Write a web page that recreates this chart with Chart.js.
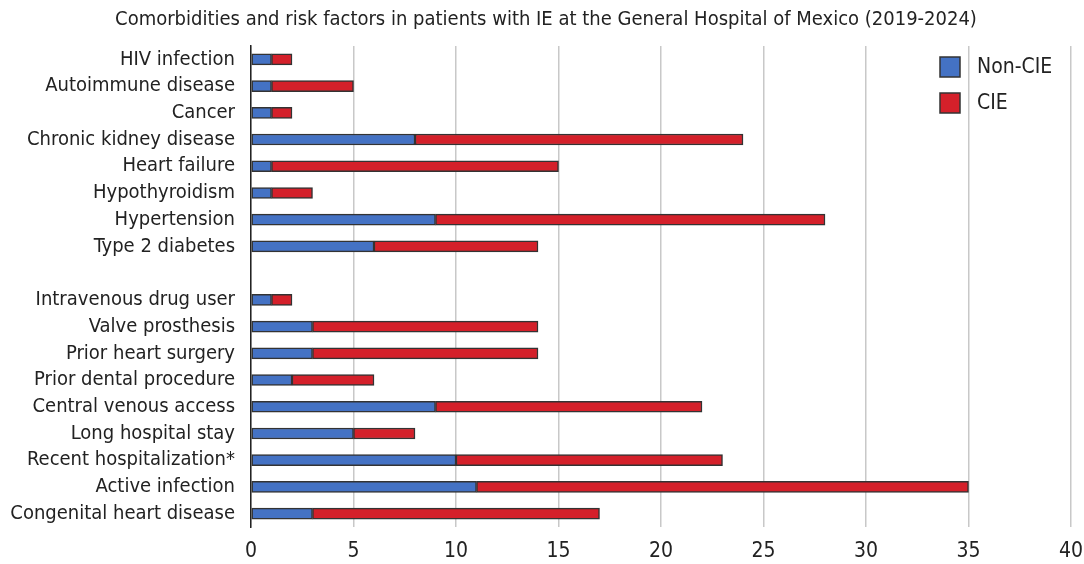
<!DOCTYPE html>
<html><head><meta charset="utf-8">
<script src="https://cdn.jsdelivr.net/npm/chart.js@4.4.1/dist/chart.umd.min.js"></script>
<style>html,body{margin:0;padding:0;background:#fff}#wrap{width:1084px;height:564px}</style>
</head><body><div id="wrap"><canvas id="c" width="1084" height="564"></canvas></div>
<script>
const categories = ["HIV infection","Autoimmune disease","Cancer","Chronic kidney disease","Heart failure","Hypothyroidism","Hypertension","Type 2 diabetes","","Intravenous drug user","Valve prosthesis","Prior heart surgery","Prior dental procedure","Central venous access","Long hospital stay","Recent hospitalization*","Active infection","Congenital heart disease"];
const nonCIE = [1,1,1,8,1,1,9,6,null,1,3,3,2,9,5,10,11,3];
const cie    = [1,4,1,16,14,2,19,8,null,1,11,11,4,13,3,13,24,14];
const xTicks = [0,5,10,15,20,25,30,35,40];
const titleText = "Comorbidities and risk factors in patients with IE at the General Hospital of Mexico (2019-2024)";
const FONT = "'Liberation Sans Narrow','DejaVu Sans Condensed','Liberation Sans',sans-serif";

const legendPlugin = {
  id:'insideLegend',
  afterDraw(chart){
    const ctx = chart.ctx;
    ctx.save();
    chart.data.datasets.forEach((ds,i)=>{
      const x = 940, y = 57 + i*36;
      ctx.fillStyle = ds.backgroundColor;
      ctx.fillRect(x,y,20,20);
      ctx.strokeStyle = '#333'; ctx.lineWidth = 1.5;
      ctx.strokeRect(x,y,20,20);
      ctx.fillStyle = '#222';
      ctx.font = "21px " + FONT;
      ctx.textBaseline = 'middle';
      ctx.fillText(ds.label, x+37, y+11);
    });
    ctx.restore();
  }
};

new Chart(document.getElementById('c'), {
  type:'bar',
  data:{
    labels: categories,
    datasets:[
      {label:'Non-CIE', data:nonCIE, backgroundColor:'#4472C4', borderColor:'#333', borderWidth:1.5, borderSkipped:false, barThickness:11},
      {label:'CIE', data:cie, backgroundColor:'#D4202A', borderColor:'#333', borderWidth:1.5, borderSkipped:false, barThickness:11}
    ]
  },
  options:{
    indexAxis:'y',
    responsive:false,
    animation:false,
    layout:{padding:{left:8,right:0,top:0,bottom:0}},
    plugins:{
      legend:{display:false},
      tooltip:{enabled:false},
      title:{display:true, text:titleText, color:'#222', font:{family:FONT, size:20, weight:'normal'}, padding:{top:8,bottom:14}}
    },
    scales:{
      x:{
        stacked:true, min:0, max:40,
        afterBuildTicks(s){ s.ticks = xTicks.map(v=>({value:v})); },
        grid:{color:'#c8c8c8', lineWidth:1.5, drawTicks:false},
        border:{display:false},
        ticks:{color:'#222', font:{family:FONT, size:21}, padding:12},
        afterFit(s){ s.height = 37; s.paddingRight = 13; s.paddingLeft = 0; }
      },
      y:{
        stacked:true,
        grid:{display:false},
        border:{display:true, color:'#222', width:1.5},
        ticks:{color:'#222', font:{family:FONT, size:20}, padding:8, autoSkip:false},
        afterFit(s){ s.width = 243; }
      }
    }
  },
  plugins:[legendPlugin]
});
</script></body></html>
